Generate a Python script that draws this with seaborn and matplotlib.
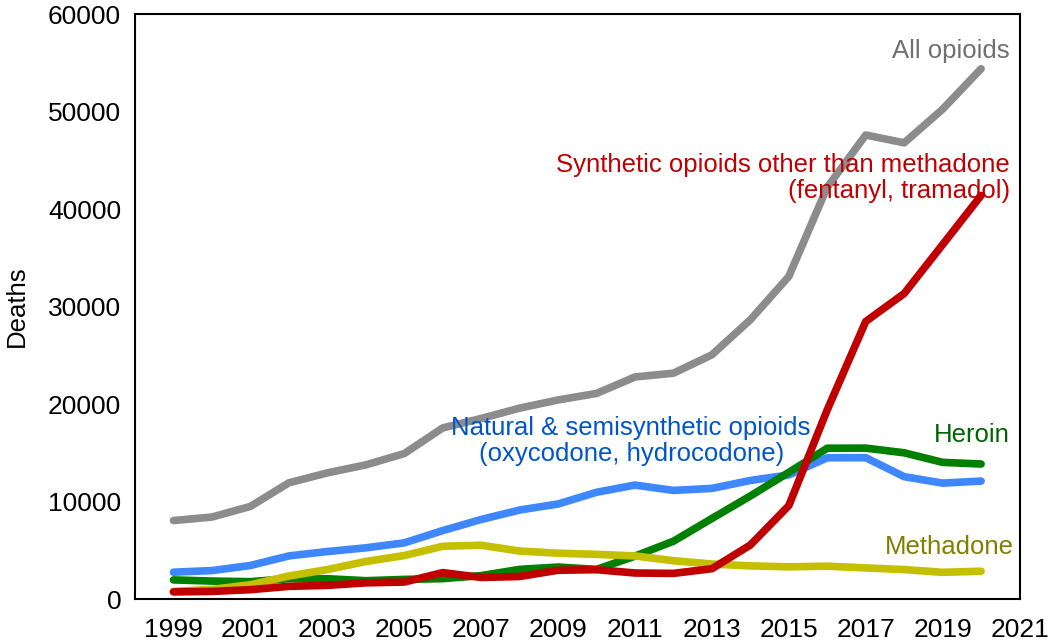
import numpy as np
import pandas as pd
import seaborn as sns
import matplotlib.pyplot as plt

years = list(range(1999, 2021))

all_opioids = [8050, 8410, 9500, 11920, 12940, 13760, 14920, 17550, 18520, 19580,
               20420, 21090, 22780, 23170, 25050, 28650, 33090, 42250, 47600, 46800,
               50250, 54400]
natural = [2750, 2920, 3440, 4420, 4870, 5250, 5760, 7020, 8160, 9130,
           9750, 10950, 11690, 11140, 11350, 12160, 12730, 14490, 14500, 12550,
           11890, 12100]
heroin = [1960, 1840, 1780, 2090, 2080, 1880, 2010, 2090, 2400, 3040,
          3280, 3040, 4400, 5930, 8260, 10570, 12990, 15470, 15480, 15000,
          14020, 13850]
methadone = [780, 990, 1460, 2360, 3020, 3850, 4460, 5410, 5520, 4920,
             4700, 4580, 4420, 3930, 3590, 3400, 3300, 3370, 3190, 3020,
             2740, 2850]
synthetic = [730, 780, 960, 1300, 1400, 1660, 1740, 2710, 2210, 2310,
             2950, 3010, 2670, 2630, 3110, 5540, 9580, 19410, 28470, 31340,
             36360, 41400]

series_names = ["All opioids", "Natural & semisynthetic", "Heroin", "Methadone", "Synthetic"]
line_colors = ["#8c8c8c", "#3f87ff", "#008000", "#c4c000", "#c00000"]

df = pd.DataFrame({"year": years, "All opioids": all_opioids,
                   "Natural & semisynthetic": natural, "Heroin": heroin,
                   "Methadone": methadone, "Synthetic": synthetic})
long = df.melt(id_vars="year", var_name="series", value_name="deaths")

sns.set_style("white")
plt.rcParams["font.family"] = ["Liberation Sans", "DejaVu Sans"]

fig = plt.figure(figsize=(10.5, 6.43), dpi=100)
ax = fig.add_axes([0.1286, 0.0684, 0.8424, 0.9096])

sns.lineplot(data=long, x="year", y="deaths", hue="series", hue_order=series_names,
             palette=line_colors, linewidth=5.5, legend=False, ax=ax)

ax.set_xlim(1998, 2021)
ax.set_ylim(0, 60000)
ax.set_xticks(range(1999, 2022, 2))
ax.set_yticks(range(0, 60001, 10000))
ax.tick_params(direction="in", length=8, width=1.3, labelsize=19, colors="black")
ax.tick_params(axis="x", pad=14)
ax.tick_params(axis="y", pad=10)
ax.set_xlabel("")
ax.set_ylabel("Deaths", fontsize=18.5, labelpad=14, color="black")
for s in ax.spines.values():
    s.set_color("black")
    s.set_linewidth(1.5)

fs = 18.5
ax.text(2020.75, 56200, "All opioids", ha="right", va="center", fontsize=fs, color="#707070")
ax.text(2020.75, 43200, "Synthetic opioids other than methadone\n(fentanyl, tramadol)",
        ha="right", va="center", fontsize=fs, color="#c00000", linespacing=1.1)
ax.text(2010.9, 16200, "Natural & semisynthetic opioids\n(oxycodone, hydrocodone)",
        ha="center", va="center", fontsize=fs, color="#0055c8", linespacing=1.1)
ax.text(2020.75, 16800, "Heroin", ha="right", va="center", fontsize=fs, color="#006400")
ax.text(2020.85, 5300, "Methadone", ha="right", va="center", fontsize=fs, color="#808000")

fig.savefig("out.png", dpi=100)
